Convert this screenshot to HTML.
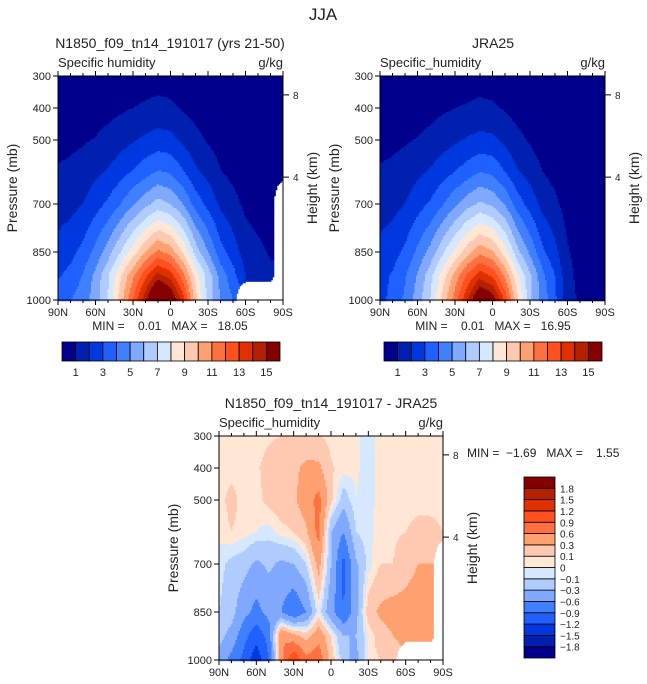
<!DOCTYPE html>
<html><head><meta charset="utf-8">
<style>
html,body{margin:0;padding:0;background:#fff;}
svg{display:block;font-family:"Liberation Sans",Arial,sans-serif;fill:#222;}
text{fill:#222;}
</style></head>
<body>
<svg id="root" width="647" height="684" viewBox="0 0 647 684" xmlns="http://www.w3.org/2000/svg">
<text x="323" y="20" font-size="17" text-anchor="middle">JJA</text>
<text x="170" y="48" font-size="14" text-anchor="middle">N1850_f09_tn14_191017 (yrs 21-50)</text>
<text x="493" y="48" font-size="14" text-anchor="middle">JRA25</text>
<text x="331" y="408" font-size="14" text-anchor="middle">N1850_f09_tn14_191017 - JRA25</text>
<text x="58" y="67" font-size="13">Specific humidity</text>
<text x="283" y="67" font-size="13" text-anchor="end">g/kg</text>
<text x="380" y="67" font-size="13">Specific_humidity</text>
<text x="605" y="67" font-size="13" text-anchor="end">g/kg</text>
<text x="219" y="427" font-size="13">Specific_humidity</text>
<text x="443" y="427" font-size="13" text-anchor="end">g/kg</text>
<text x="170" y="330" font-size="12" text-anchor="middle" xml:space="preserve">MIN =    0.01   MAX =   18.05</text>
<text x="493" y="330" font-size="12" text-anchor="middle" xml:space="preserve">MIN =    0.01   MAX =   16.95</text>
<text x="467" y="457" font-size="12" xml:space="preserve">MIN =  −1.69   MAX =    1.55</text>
<g id="layer"></g>
</svg>
<script>
// ---- data ----
const levels = [1000, 925, 850, 700, 600, 500, 400, 300];
const latLabels = ["90N","60N","30N","0","30S","60S","90S"];
const N = NaN;
const modelQ = [
 [3.5,4,4.5,5.5,7,9.5,12,14.8,18,16.5,13.5,9.5,6.5,5,4,N,N,N,N],
 [2.9,3.3,4.1,5.3,6.9,8.9,10.8,12.8,14.4,13.6,11.5,8.6,6.6,4.6,3.4,2.0,1.6,1.2,N],
 [2.4,2.7,3.3,4.3,5.5,7.0,8.5,10,11.2,10.6,8.9,6.6,5,3.4,2.5,1.5,1.2,0.9,N],
 [1.5,1.7,2.0,2.6,3.2,4.0,4.9,5.7,6.4,6,5,3.6,2.7,1.8,1.3,0.8,0.6,0.5,N],
 [1.1,1.2,1.4,1.8,2.1,2.6,3.1,3.6,4.1,3.9,3.1,2.2,1.7,1.05,0.75,0.5,0.4,0.3,0.2],
 [0.7,0.8,0.9,1.05,1.3,1.6,1.9,2.2,2.4,2.3,1.8,1.3,0.9,0.57,0.4,0.3,0.2,0.15,0.1],
 [0.4,0.45,0.5,0.6,0.7,0.85,1.0,1.15,1.3,1.2,0.9,0.65,0.45,0.27,0.18,0.13,0.1,0.07,0.05],
 [0.2,0.2,0.25,0.3,0.35,0.4,0.45,0.5,0.55,0.5,0.4,0.27,0.2,0.1,0.07,0.05,0.04,0.03,0.02]
];
const jraQ = [
 [2.8,3.2,4.2,5.5,7,9.3,11.5,14,16.9,15.8,12.8,9.2,6.3,4.6,3.2,1.5,0.8,0.5,0.3],
 [2.7,3.1,3.9,5.1,6.6,8.5,10.4,12.3,13.6,12.9,10.8,8.2,6.2,4.3,3.0,1.3,0.7,0.5,0.3],
 [2.3,2.6,3.2,4.2,5.3,6.8,8.2,9.6,10.7,10.1,8.5,6.3,4.8,3.2,2.3,1.1,0.6,0.4,0.3],
 [1.5,1.7,2.0,2.6,3.1,3.9,4.8,5.6,6.2,5.8,4.9,3.5,2.6,1.7,1.2,0.6,0.4,0.3,0.2],
 [1.1,1.2,1.4,1.8,2.1,2.6,3.0,3.5,4.0,3.8,3.0,2.1,1.6,1.0,0.7,0.4,0.3,0.25,0.2],
 [0.7,0.8,0.9,1.05,1.25,1.55,1.85,2.1,2.3,2.2,1.75,1.25,0.9,0.55,0.4,0.3,0.2,0.15,0.1],
 [0.4,0.45,0.5,0.6,0.7,0.85,1.0,1.1,1.25,1.15,0.9,0.62,0.45,0.27,0.18,0.13,0.1,0.07,0.05],
 [0.2,0.2,0.25,0.3,0.35,0.4,0.45,0.5,0.52,0.48,0.38,0.26,0.2,0.1,0.07,0.05,0.04,0.03,0.02]
];
const diffQ = [
 [-0.4,-0.7,-1.0,-1.4,-0.9,0.5,1.2,0.7,0.8,0.2,-0.2,-0.4,0.05,0.1,0.2,N,N,N,N],
 [-0.2,-0.4,-0.8,-1.1,-0.8,0.6,0.4,0.2,0.5,0.1,-0.3,-0.3,0.0,0.2,0.3,0.35,0.35,0.3,N],
 [-0.1,-0.2,-0.5,-0.7,-0.5,-0.6,-0.9,-0.6,0.0,-0.5,-0.9,-0.4,0.2,0.35,0.4,0.4,0.45,0.35,N],
 [-0.05,-0.15,-0.2,-0.35,-0.25,-0.35,-0.3,-0.1,0.4,-0.3,-1.0,-0.35,-0.05,0.1,0.1,0.2,0.3,0.3,N],
 [0.03,0.1,0.05,0.0,-0.05,0.05,0.1,0.25,0.7,-0.3,-0.6,-0.1,-0.03,0.05,0.08,0.1,0.15,0.15,0.1],
 [0.05,0.15,0.05,0.05,0.15,0.2,0.25,0.45,0.7,0.15,-0.2,0.0,-0.05,0.05,0.05,0.05,0.05,0.05,0.05],
 [0.05,0.05,0.05,0.08,0.15,0.2,0.25,0.35,0.35,0.12,0.05,0.02,-0.05,0.05,0.05,0.05,0.05,0.05,0.05],
 [0.05,0.05,0.05,0.05,0.08,0.1,0.15,0.15,0.12,0.05,0.05,0.03,-0.05,0.05,0.05,0.05,0.05,0.05,0.05]
];
const qLevels = [1,2,3,4,5,6,7,8,9,10,11,12,13,14,15];
const qTickLabels = ["1","3","5","7","9","11","13","15"];
const dLevels = [-1.8,-1.5,-1.2,-0.9,-0.6,-0.3,-0.1,0,0.1,0.3,0.6,0.9,1.2,1.5,1.8];
const dTickLabels = ["−1.8","−1.5","−1.2","−0.9","−0.6","−0.3","−0.1","0","0.1","0.3","0.6","0.9","1.2","1.5","1.8"];
const pTicks = [300,400,500,700,850,1000];
const hTicks = [{km:8,p:359},{km:4,p:616}];
const palette = ['#00008c','#0020b0','#0038e0','#2060ff','#4080ff','#80a8ff','#b0ccff','#d5e8ff','#ffe6d5','#ffc8b0','#ffa070','#ff7040','#ff5020','#e03000','#b52000','#870000'];

// ---- drawing ----
const NS = "http://www.w3.org/2000/svg";
const layer = document.getElementById('layer');
function mk(tag, attrs, parent){
  const e = document.createElementNS(NS, tag);
  for (const k in attrs) e.setAttribute(k, attrs[k]);
  (parent||layer).appendChild(e);
  return e;
}
function colorIndex(v, lv){ let i=0; while(i<lv.length && v>=lv[i]) i++; return i; }

function sample(grid, fl, p){
  let k = 0;
  while (k < levels.length-2 && p < levels[k+1]) k++;
  const t = Math.min(1, Math.max(0, (levels[k]-p)/(levels[k]-levels[k+1])));
  const i = Math.min(17, Math.floor(fl)); const s = fl - i;
  const c = [[grid[k][i],(1-s)*(1-t)],[grid[k][i+1],s*(1-t)],[grid[k+1][i],(1-s)*t],[grid[k+1][i+1],s*t]];
  let sum=0, w=0, nw=0;
  for (const [v,wt] of c){ if (isNaN(v)) nw+=wt; else { sum+=v*wt; w+=wt; } }
  if (nw > 0.25 || w===0) return NaN;
  return sum/w;
}

function panel(name, x0, y0, w, h, grid, lv){
  const g = mk('g', {});
  
  
  const xs = fl => x0 + fl/18*w;
  const ys = p => y0 + (p-300)/700*h;
  const step = 1.5;
  for (let y = y0; y < y0+h; y += step){
    const p = 300 + (y + step/2 - y0)/h*700;
    let runStart = x0, runCol = null;
    const flush = (xe) => {
      if (runCol !== null && runCol >= 0){
        const r = mk('rect', {x:runStart, y:y, width:xe-runStart+0.3, height:step+0.3, fill:palette[runCol]}, g);
        
        
      }
    };
    for (let x = x0; x < x0+w; x += step){
      const fl = (x + step/2 - x0)/w*18;
      const v = sample(grid, fl, p);
      const ci = isNaN(v) ? -1 : colorIndex(v, lv);
      if (ci !== runCol){ flush(x); runStart = x; runCol = ci; }
    }
    flush(x0+w);
  }
  const fr = mk('rect', {x:x0, y:y0, width:w, height:h, fill:'none', stroke:'#000', 'stroke-width':1});
  
  
  for (const pt of pTicks){
    const yy = ys(pt);
    const l = mk('line', {x1:x0-5, x2:x0, y1:yy, y2:yy, stroke:'#000'});
    
    
    const t = mk('text', {x:x0-7, y:yy+4, 'font-size':11, 'text-anchor':'end'});
    t.textContent = pt;
    
    
  }
  for (let i = 0; i <= 18; i++){
    const xx = xs(i);
    const major = i % 3 === 0;
    mk('line', {x1:xx, x2:xx, y1:y0+h, y2:y0+h+(major?5:3), stroke:'#000'});
    mk('line', {x1:xx, x2:xx, y1:y0, y2:y0-(major?5:3), stroke:'#000'});
    if (major){
      const t = mk('text', {x:xx, y:y0+h+16, 'font-size':11, 'text-anchor':'middle'});
      t.textContent = latLabels[i/3];
      
      
    }
  }
  for (const ht of hTicks){
    const yy = ys(ht.p);
    mk('line', {x1:x0+w, x2:x0+w+6, y1:yy, y2:yy, stroke:'#000'});
    const t = mk('text', {x:x0+w+10, y:yy+4, 'font-size':10});
    t.textContent = ht.km;
    
    
  }
  const yl = mk('text', {x:0, y:0, 'font-size':14, 'text-anchor':'middle', transform:`translate(${x0-41},${y0+h/2}) rotate(-90)`, fill:'#444'});
  yl.textContent = 'Pressure (mb)';
  
  
  const hl = mk('text', {x:0, y:0, 'font-size':14, 'text-anchor':'middle', transform:`translate(${x0+w+34},${y0+h/2}) rotate(-90)`, fill:'#444'});
  hl.textContent = 'Height (km)';
  
  
}

function hColorbar(name, x0, y0, w, h){
  const bw = w / palette.length;
  palette.forEach((c,i)=>{
    const r = mk('rect', {x:x0+i*bw, y:y0, width:bw, height:h, fill:c, stroke:'#000', 'stroke-width':0.8});
    
    
  });
  qTickLabels.forEach(lab=>{
    const idx = qLevels.indexOf(Number(lab)) + 1;
    const t = mk('text', {x:x0+idx*bw, y:y0+h+15, 'font-size':11, 'text-anchor':'middle'});
    t.textContent = lab;
    
    
  });
}
function vColorbar(name, x0, y0, w, h){
  const bh = h / palette.length;
  palette.forEach((c,i)=>{
    const r = mk('rect', {x:x0, y:y0+(palette.length-1-i)*bh, width:w, height:bh, fill:c, stroke:'#000', 'stroke-width':0.8});
    
    
  });
  dTickLabels.forEach((lab,j)=>{
    const yy = y0 + h - (j+1)*bh;
    const t = mk('text', {x:x0+w+5, y:yy+4, 'font-size':10});
    t.textContent = lab;
    
    
  });
}

panel('model', 58, 76, 225, 224, modelQ, qLevels);
panel('jra', 380, 76, 225, 224, jraQ, qLevels);
panel('diff', 219, 436, 224, 224, diffQ, dLevels);
hColorbar('model', 62, 342, 218, 19);
hColorbar('jra', 384, 342, 218, 19);
vColorbar('diff', 524, 477, 31, 181);
</script>
</body></html>
